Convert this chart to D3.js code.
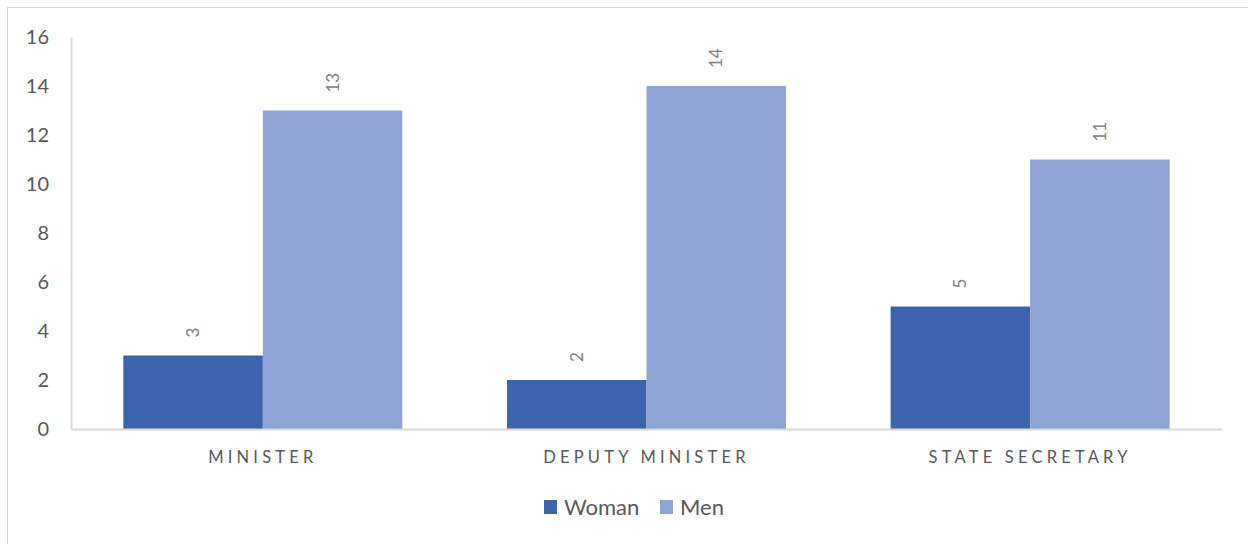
<!DOCTYPE html>
<html>
<head>
<meta charset="utf-8">
<script src="https://cdn.jsdelivr.net/npm/d3@7"></script>
<style>
  html, body { margin: 0; padding: 0; background: #fff; }
  svg { display: block; }
  text { font-family: Lato, "Noto Sans", sans-serif; }
</style>
</head>
<body>
<svg id="chart" width="1248" height="544"></svg>
<script>
// Positions held, by gender
const categories = ["MINISTER", "DEPUTY MINISTER", "STATE SECRETARY"];
const seriesNames = ["Woman", "Men"];
const womanValues = [3, 2, 5];
const menValues = [13, 14, 11];
const yTicks = [0, 2, 4, 6, 8, 10, 12, 14, 16];
const colors = ["#3c64ac", "#8fa4d4"];

const svg = d3.select("#chart");
const W = 1248, H = 544;
const margin = { left: 71, right: 26, top: 37, bottom: 115 };

// Outer frame
svg.append("rect")
  .attr("x", 7.5).attr("y", 7.5)
  .attr("width", W + 10).attr("height", H + 10)
  .attr("fill", "#fff").attr("stroke", "#d9d9d9").attr("stroke-width", 1);

const x0 = d3.scaleBand()
  .domain(categories)
  .range([margin.left, W - margin.right])
  .paddingInner(0.2727).paddingOuter(0.1364);
const x1 = d3.scaleBand()
  .domain(seriesNames)
  .range([0, x0.bandwidth()]);
const y = d3.scaleLinear()
  .domain([0, 16])
  .range([H - margin.bottom, margin.top]);

// Y axis labels
const yAxis = d3.axisLeft(y).tickValues(yTicks).tickSize(0).tickPadding(22);
const gy = svg.append("g").attr("transform", `translate(${margin.left},0)`).call(yAxis);
gy.select(".domain").attr("stroke", "#d9d9d9").attr("stroke-width", 2);
gy.selectAll("text")
  .attr("fill", "#595959").style("font-size", "20px")
  .style("font-family", "Lato, 'Noto Sans', sans-serif");

// Bars
const data = categories.map((c, i) => ({ cat: c, vals: [womanValues[i], menValues[i]] }));
const groups = svg.append("g").selectAll("g").data(data).join("g")
  .attr("transform", d => `translate(${x0(d.cat)},0)`);

groups.selectAll("rect")
  .data(d => d.vals.map((v, j) => ({ name: seriesNames[j], v, j })))
  .join("rect")
  .attr("x", d => x1(d.name))
  .attr("width", x1.bandwidth())
  .attr("y", d => y(d.v))
  .attr("height", d => y(0) - y(d.v))
  .attr("fill", d => colors[d.j]);

// Value labels, rotated
groups.selectAll("text.val")
  .data(d => d.vals.map((v, j) => ({ name: seriesNames[j], v, j })))
  .join("text")
  .attr("class", "val")
  .attr("transform", d => `translate(${x1(d.name) + x1.bandwidth() / 2 + 6},${y(d.v) - 18}) rotate(-90)`)
  .attr("text-anchor", "start")
  .attr("fill", "#808080")
  .style("font-size", "17px")
  .text(d => d.v);

// X axis
const xAxis = d3.axisBottom(x0).tickSize(0).tickPadding(22);
const gx = svg.append("g").attr("transform", `translate(0,${y(0)})`).call(xAxis);
gx.select(".domain").attr("stroke", "#d9d9d9").attr("stroke-width", 2);
gx.selectAll("text")
  .attr("fill", "#595959")
  .style("font-size", "16.5px")
  .style("letter-spacing", "4.2px")
  .style("font-family", "Lato, 'Noto Sans', sans-serif");

// Legend
const legend = svg.append("g").attr("transform", "translate(544,500)");
const items = [{ name: seriesNames[0], x: 0 }, { name: seriesNames[1], x: 116 }];
items.forEach((it, j) => {
  legend.append("rect").attr("x", it.x).attr("y", 0).attr("width", 13).attr("height", 14).attr("fill", colors[j]);
  legend.append("text").attr("x", it.x + 20).attr("y", 15)
    .attr("fill", "#595959").style("font-size", "22px").text(it.name);
});
</script>
</body>
</html>
